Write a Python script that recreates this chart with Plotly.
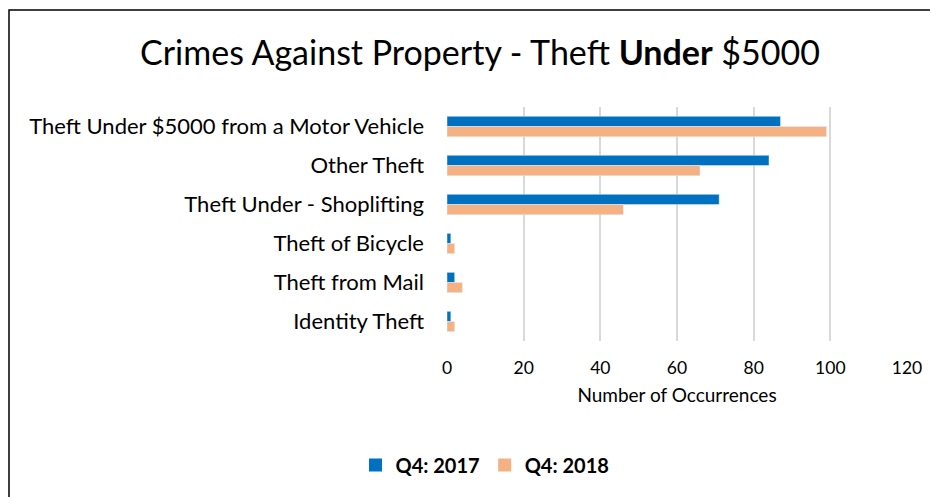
import plotly.graph_objects as go

categories = [
    'Theft Under $5000 from a Motor Vehicle',
    'Other Theft',
    'Theft Under - Shoplifting',
    'Theft of Bicycle',
    'Theft from Mail',
    'Identity Theft',
]
series_names = ['Q4: 2017', 'Q4: 2018']
q4_2017 = [87, 84, 71, 1, 2, 1]
q4_2018 = [99, 66, 46, 2, 4, 2]
colors = ['#0070c0', '#f4b183']

# page has an 8px body margin, so everything is placed 8px up/left
OFF = 8
W, H = 938, 497
L, R, T, B = 447 - OFF, 938 - 907 + OFF, 107 - OFF, 497 - 341 + OFF
pw, ph = W - L - R, H - T - B

fig = go.Figure()

for name, vals, col in zip(series_names, [q4_2017, q4_2018], colors):
    fig.add_trace(
        go.Bar(
            name = name,
            y = categories,
            x = vals,
            orientation = 'h',
            marker_color = col,
            showlegend = False
        )
    )

# legend entries with bigger square keys
for name, col in zip(series_names, colors):
    fig.add_trace(
        go.Scatter(
            name = '<b>' + name + '</b>',
            x = [None],
            y = [None],
            mode = 'markers',
            marker = dict(symbol = 'square', size = 13, color = col)
        )
    )

# outer frame of the chart
fig.add_shape(
    type = 'rect', xref = 'paper', yref = 'paper',
    x0 = (9 - OFF - L) / pw, x1 = (W + 5 - L) / pw,
    y0 = (-B - 5) / ph, y1 = 1 + (T - (10 - OFF)) / ph,
    line = dict(color = 'black', width = 1.5),
    layer = 'below'
)

fig.update_layout(
    width = W,
    height = H,
    margin = dict(l = L, r = R, t = T, b = B),
    paper_bgcolor = 'white',
    plot_bgcolor = 'white',
    font = dict(family = 'Lato, Carlito, sans-serif', color = '#000000'),
    title = dict(
        text = 'Crimes Against Property - Theft <b>Under</b> $5000',
        x = (480 - OFF) / W, xanchor = 'center',
        y = 1 - (53 - OFF) / H, yanchor = 'middle',
        font = dict(size = 34, color = '#000000')
    ),
    barmode = 'group',
    bargap = 0.48,
    bargroupgap = 0,
    showlegend = True,
    legend = dict(
        orientation = 'h',
        x = (485 - OFF - L) / pw, xanchor = 'center',
        y = -(465 - OFF - T - ph) / ph, yanchor = 'middle',
        font = dict(size = 20, color = '#000000'),
        traceorder = 'normal',
        itemwidth = 30,
        tracegroupgap = 0
    ),
    xaxis = dict(
        range = [0, 120],
        dtick = 20,
        showgrid = True,
        gridcolor = '#d9d9d9',
        gridwidth = 2,
        zeroline = False,
        showline = False,
        ticks = '',
        ticklabelstandoff = 14,
        tickfont = dict(size = 17.5, color = '#000000'),
        title = dict(text = 'Number of Occurrences', font = dict(size = 19, color = '#000000'), standoff = 12)
    ),
    yaxis = dict(
        autorange = 'reversed',
        showgrid = False,
        ticks = '',
        ticklabelstandoff = 22,
        tickfont = dict(size = 22, color = '#000000')
    )
)

fig.write_html('out.html')
